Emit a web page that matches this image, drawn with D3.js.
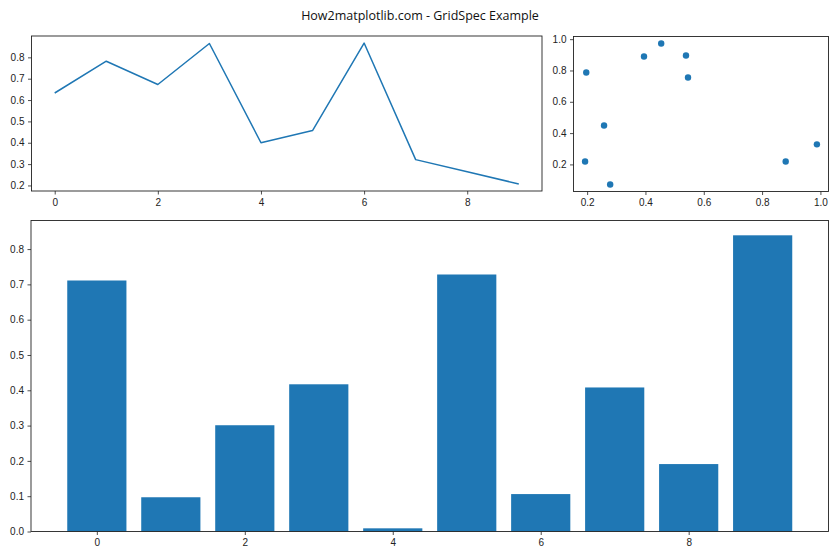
<!DOCTYPE html>
<html>
<head>
<meta charset="utf-8">
<script src="https://cdn.jsdelivr.net/npm/d3@7"></script>
<style>
  body { margin: 0; background: #fff; }
  svg { display: block; font-family: "Open Sans", "Noto Sans", sans-serif; }
  .tick text { font-size: 10px; fill: #222; }
</style>
</head>
<body>
<svg id="chart" width="840" height="560"></svg>
<script>
// ---- data ----
const title = "How2matplotlib.com - GridSpec Example";

const lineX = [0, 1, 2, 3, 4, 5, 6, 7, 8, 9];
const lineY = [0.633, 0.782, 0.673, 0.865, 0.400, 0.457, 0.867, 0.321, 0.264, 0.207];
const lineXTicks = [0, 2, 4, 6, 8];
const lineYTicks = [0.2, 0.3, 0.4, 0.5, 0.6, 0.7, 0.8];

const scatterX = [0.197, 0.193, 0.258, 0.279, 0.395, 0.454, 0.539, 0.546, 0.881, 0.988];
const scatterY = [0.787, 0.219, 0.449, 0.072, 0.889, 0.972, 0.896, 0.755, 0.219, 0.328];
const scatterXTicks = [0.2, 0.4, 0.6, 0.8, 1.0];
const scatterYTicks = [0.2, 0.4, 0.6, 0.8, 1.0];

const barX = [0, 1, 2, 3, 4, 5, 6, 7, 8, 9];
const barY = [0.711, 0.097, 0.301, 0.417, 0.009, 0.728, 0.106, 0.408, 0.191, 0.839];
const barXTicks = [0, 2, 4, 6, 8];
const barYTicks = [0.0, 0.1, 0.2, 0.3, 0.4, 0.5, 0.6, 0.7, 0.8];

// ---- drawing ----
const color = "#1f77b4";
const svg = d3.select("#chart");

svg.append("text")
  .attr("x", 420).attr("y", 20)
  .attr("text-anchor", "middle")
  .attr("font-size", 12.5)
  .attr("fill", "#111")
  .text(title);

function padDomain(vals, frac) {
  const [lo, hi] = d3.extent(vals);
  const r = hi - lo;
  return [lo - r * frac, hi + r * frac];
}

function frame(box, xs, ys, xTicks, yTicks, xFmt, yFmt) {
  const g = svg.append("g");
  g.append("g")
    .attr("transform", `translate(0,${box.y1})`)
    .call(d3.axisBottom(xs).tickValues(xTicks).tickSize(3.5).tickPadding(4).tickFormat(xFmt))
    .call(a => a.select(".domain").remove());
  g.append("g")
    .attr("transform", `translate(${box.x0},0)`)
    .call(d3.axisLeft(ys).tickValues(yTicks).tickSize(3.5).tickPadding(3.5).tickFormat(yFmt))
    .call(a => a.select(".domain").remove());
  g.selectAll(".tick line").attr("stroke", "#222").attr("stroke-width", 0.8);
  return g;
}

function spines(box) {
  svg.append("rect")
    .attr("x", box.x0).attr("y", box.y0)
    .attr("width", box.x1 - box.x0).attr("height", box.y1 - box.y0)
    .attr("fill", "none").attr("stroke", "#222").attr("stroke-width", 0.9);
}

// top-left line plot
{
  const box = { x0: 31.5, x1: 542, y0: 36, y1: 191 };
  const xs = d3.scaleLinear().domain(padDomain(lineX, 0.05)).range([box.x0, box.x1]);
  const ys = d3.scaleLinear().domain(padDomain(lineY, 0.05)).range([box.y1, box.y0]);
  frame(box, xs, ys, lineXTicks, lineYTicks, d3.format("d"), d3.format(".1f"));
  svg.append("path")
    .datum(lineX.map((x, i) => [x, lineY[i]]))
    .attr("fill", "none").attr("stroke", color).attr("stroke-width", 1.5)
    .attr("stroke-linejoin", "round")
    .attr("d", d3.line().x(d => xs(d[0])).y(d => ys(d[1])));
  spines(box);
}

// top-right scatter
{
  const box = { x0: 573.5, x1: 828.5, y0: 36.5, y1: 191.5 };
  const xs = d3.scaleLinear().domain(padDomain(scatterX, 0.05)).range([box.x0, box.x1]);
  const ys = d3.scaleLinear().domain(padDomain(scatterY, 0.05)).range([box.y1, box.y0]);
  frame(box, xs, ys, scatterXTicks, scatterYTicks, d3.format(".1f"), d3.format(".1f"));
  svg.append("g").selectAll("circle")
    .data(scatterX.map((x, i) => [x, scatterY[i]]))
    .join("circle")
    .attr("cx", d => xs(d[0])).attr("cy", d => ys(d[1]))
    .attr("r", 3.2).attr("fill", color);
  spines(box);
}

// bottom bar chart
{
  const box = { x0: 31, x1: 828.5, y0: 220.5, y1: 531.5 };
  const bw = 0.8;
  const xs = d3.scaleLinear()
    .domain(padDomain([d3.min(barX) - bw / 2, d3.max(barX) + bw / 2], 0.05))
    .range([box.x0, box.x1]);
  const ys = d3.scaleLinear().domain([0, d3.max(barY) * 1.05]).range([box.y1, box.y0]);
  frame(box, xs, ys, barXTicks, barYTicks, d3.format("d"), d3.format(".1f"));
  svg.append("g").selectAll("rect")
    .data(barX.map((x, i) => [x, barY[i]]))
    .join("rect")
    .attr("x", d => xs(d[0] - bw / 2))
    .attr("width", d => xs(d[0] + bw / 2) - xs(d[0] - bw / 2))
    .attr("y", d => ys(d[1]))
    .attr("height", d => ys(0) - ys(d[1]))
    .attr("fill", color);
  spines(box);
}
</script>
</body>
</html>
